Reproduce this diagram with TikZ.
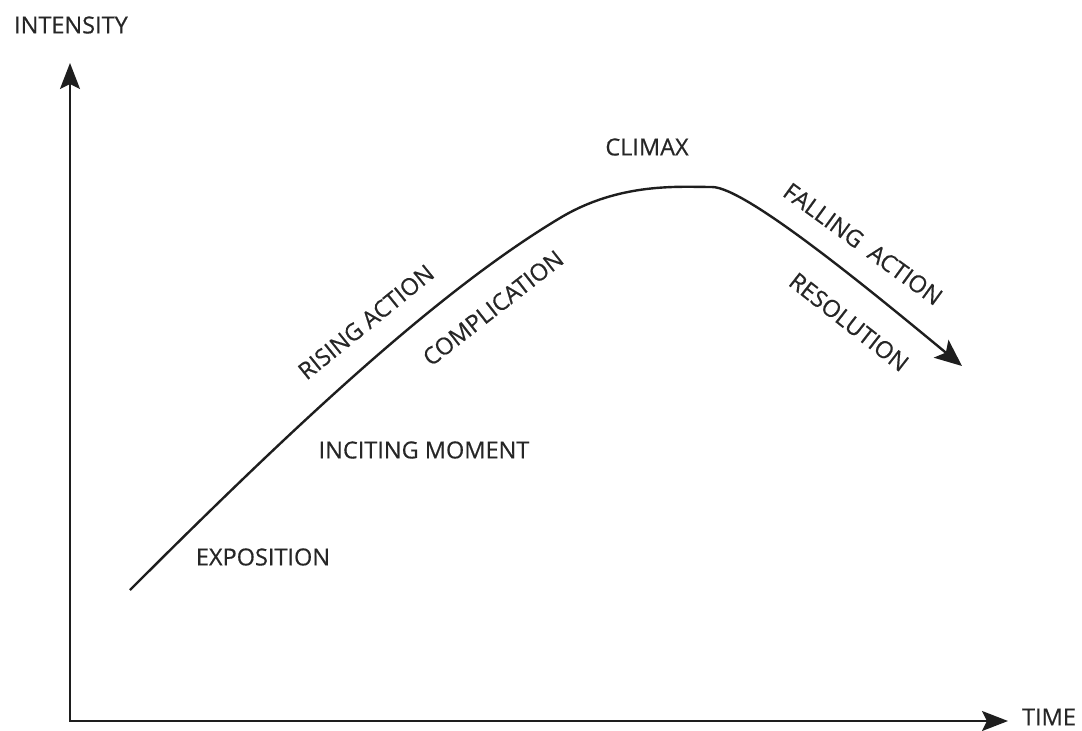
\documentclass[tikz,border=0pt]{standalone}
\usepackage{fontspec}
\setmainfont{Open Sans}
\newfontfamily\lblfont{Open Sans}[BoldFont={Open Sans}, BoldFeatures={FakeBold=0.5}]
\usetikzlibrary{arrows.meta}
\definecolor{ink}{HTML}{1E1E1E}
\definecolor{txt}{HTML}{262626}
\tikzset{
  lbl/.style={font=\lblfont\bfseries\fontsize{23.5}{27}\selectfont, text=txt, inner sep=0pt, anchor=center},
  axis/.style={draw=ink, line width=2pt, -{Stealth[length=26pt,width=20pt,inset=5pt]}},
  arc/.style={draw=ink, line width=2.4pt, -{Stealth[length=27pt,width=23pt,inset=6pt]}}
}
\begin{document}
\begin{tikzpicture}[x=1pt,y=-1pt]
\useasboundingbox (0,0) rectangle (1082,731);
% axes
\coordinate (origin) at (70,721);
\coordinate (ytip) at (70,63);
\coordinate (xtip) at (1008,721);
\draw[axis] (origin) -- (ytip);
\draw[axis] (origin) -- (xtip);
\draw[ink, line width=2pt, line cap=rect] (70,710) -- (origin) -- (80,721);
% story curve
\coordinate (start) at (130,590);
\coordinate (bend) at (560,218);
\coordinate (peak) at (712,187);
\coordinate (finish) at (962,366);
\draw[arc] (start) .. controls (300,420) and (440,290) .. (bend)
  .. controls (620,182) and (680,187) .. (peak)
  .. controls (745,187) and (870,290) .. (finish);
% labels
\node[lbl] (intensity) at (71,25) {INTENSITY};
\node[lbl] (time) at (1049,717) {TIME};
\node[lbl] (climax) at (647,147) {CLIMAX};
\node[lbl] (exposition) at (263,557) {EXPOSITION};
\node[lbl] (inciting) at (424,450) {INCITING MOMENT};
\node[lbl, rotate=39] (rising) at (366,322) {RISING ACTION};
\node[lbl, rotate=38] (complication) at (493,308) {COMPLICATION};
\node[lbl, rotate=-36] (falling) at (863,244) {FALLING\ \ ACTION};
\node[lbl, rotate=-38] (resolution) at (849,322) {RESOLUTION};
\end{tikzpicture}
\end{document}
